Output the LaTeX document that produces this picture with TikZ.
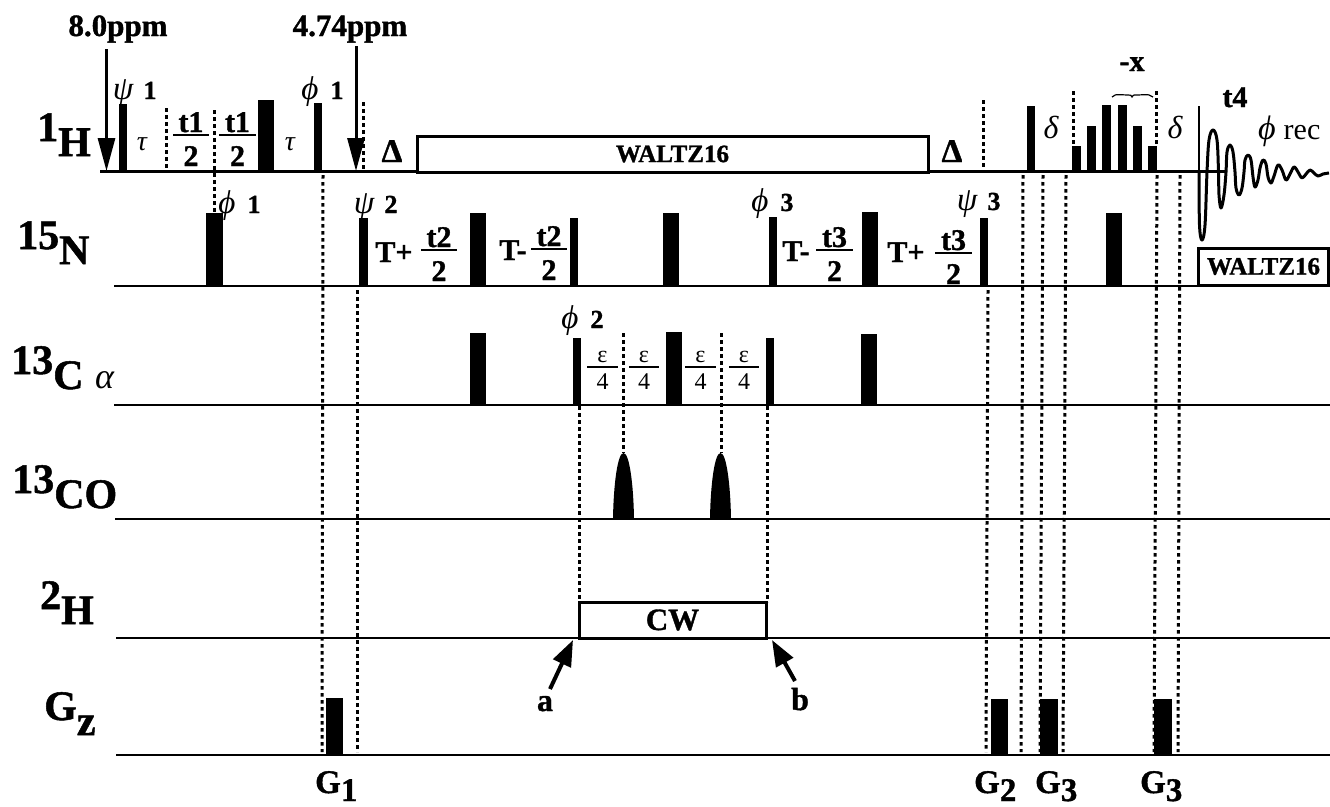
\documentclass[tikz,border=0pt]{standalone}
\usepackage{fontspec}
\setmainfont[BoldFeatures={FakeBold=1.2}]{Liberation Serif}
\usetikzlibrary{arrows.meta}
\newcommand{\fsz}[1]{\fontsize{#1}{#1}\selectfont}
\tikzset{
  chan/.style={line width=2.8pt},
  pulse/.style={fill=black},
  dotln/.style={line width=3pt, dash pattern=on 3.6pt off 3.4pt},
  winbox/.style={draw, line width=3pt, fill=white},
  lbl/.style={anchor=base, inner sep=0pt, font=\fsz{25}\bfseries},
  nuc/.style={anchor=base west, inner sep=0pt, font=\fsz{42}\bfseries},
  grad/.style={anchor=base west, inner sep=0pt, font=\fsz{33}\bfseries},
  ppm/.style={anchor=base, inner sep=0pt, font=\fsz{31}\bfseries},
  phs/.style={anchor=base, inner sep=0pt, font=\fsz{33}\itshape},
  idx/.style={anchor=base, inner sep=0pt, font=\fsz{26}\bfseries},
  dly/.style={anchor=base, inner sep=0pt, font=\fsz{30}\bfseries},
  frc/.style={anchor=base, inner sep=0pt, font=\fsz{30}\bfseries},
  thin frc/.style={anchor=base, inner sep=0pt, font=\fsz{24}},
  bar/.style={line width=2.6pt},
  drop/.style={-{Triangle[length=33pt,width=17pt]}, line width=3pt},
  ptr/.style={-{Triangle[length=26pt,width=19pt]}, line width=4pt}
}
\begin{document}
\begin{tikzpicture}[x=1pt,y=-1pt]
  \useasboundingbox (0,0) rectangle (1330,806);
  % channels
  \foreach \xa/\xb/\y in {100/1226/171.5,114/1199/286,114/1330/405,115/1330/519,116/1330/638,116/1330/755}
    \draw[chan] (\xa,\y) -- (\xb,\y);
  % hard pulses
  \foreach \xa/\xb/\yb/\yt in {119/127/171/104,258/274/171/100,314/322/171/103,1027/1035/171/106,
      1072/1081/171/146,1087/1096/171/126,1102/1111/171/105,1118/1127/171/105,1133/1142/171/126,1148/1157/171/146,
      206/223/286/213,359/368/286/218,470/486/286/213,570/578/286/218,663/679/286/213,769/777/286/217,862/878/286/212,980/988/286/218,1106/1122/286/213,
      470/486/405/333,573/581/405/338,666/682/405/332,766/774/405/338,861/877/405/334,
      326/343/755/698,991/1008/755/699,1040/1058/755/699,1154/1172/755/699}
    \fill[pulse] (\xa,\yb) rectangle (\xb,\yt);
  % shaped pulses
  \foreach \x in {623.5,720.5}
    \fill[pulse] ({\x-10.5},519) .. controls ({\x-10},485) and ({\x-6},453) .. (\x,453)
      .. controls ({\x+6},453) and ({\x+10},485) .. ({\x+10.5},519) -- cycle;
  % vertical guides
  \foreach \xa/\ya/\xb/\yb in {166/108/166/171,214/110/214/213,363/102/363/171,983/100/983/171,
      1073/91/1073/146,1156/91/1156/146,323/175/322/752,357/290/357/752,
      988/290/986/752,1023/175/1021/752,1043/175/1040/752,1066/175/1063/752,
      1157/175/1154/752,1180/175/1178/752,
      579/406/579/602,767/406/767/602,623/333/623/453,721/333/721/453}
    \draw[dotln] (\xa,\ya) -- (\xb,\yb);
  % decoupling windows
  \node[winbox, minimum width=511pt, minimum height=36pt, inner sep=0pt, font=\fsz{25}\bfseries] (dec1) at (672.5,154) {WALTZ16};
  \node[winbox, minimum width=130pt, minimum height=37pt, inner sep=0pt, font=\fsz{25}\bfseries] (dec2) at (1263.5,266.5) {WALTZ16};
  \node[winbox, minimum width=187pt, minimum height=36pt, inner sep=0pt, font=\fsz{31}\bfseries] (cw) at (672.5,620) {CW};
  % channel names
  \node[nuc] (h1) at (37,156) {\raisebox{15pt}{1}H};
  \node[nuc] (n15) at (17,264) {\raisebox{15pt}{15}N};
  \node[nuc] (c13a) at (11,389) {\raisebox{15pt}{13}C};
  \node[anchor=base west, inner sep=0pt, font=\fsz{36}\itshape] (alf) at (95,388) {α};
  \node[nuc] (c13o) at (12,508) {\raisebox{15pt}{13}CO};
  \node[nuc] (h2) at (40,624) {\raisebox{15pt}{2}H};
  \node[nuc] (gz) at (44,720) {G\raisebox{-15pt}{z}};
  % gradient names
  \foreach \x/\t [count=\n] in {315/1,974/2,1035/3,1140/3}
    \node[grad] (g\n) at (\x,793) {G\raisebox{-8pt}{\t}};
  % offsets
  \node[ppm] (p80) at (118,36) {8.0ppm};
  \node[ppm] (p474) at (350,36) {4.74ppm};
  \coordinate (p80a) at (106.5,49);
  \coordinate (p80b) at (106.5,171);
  \coordinate (p474a) at (356,46);
  \coordinate (p474b) at (356,171);
  \draw[drop] (p80a) -- (p80b);
  \draw[drop] (p474a) -- (p474b);
  % phases
  \foreach \x/\y/\s/\t [count=\n] in {123/99/ψ/1,310/99/ϕ/1,227/213/ϕ/1,364/213/ψ/2,760/211/ϕ/3,967/210/ψ/3,570/328/ϕ/2}{
    \node[phs] (ph\n) at (\x,\y) {\s};
    \node[idx] (ix\n) at ({\x+27},\y) {\t};
  }
  % delays
  \foreach \x/\y/\s/\z [count=\n] in {142/150/τ/28,290/150/τ/28,1051/138/δ/32,1175/138/δ/32}
    \node[phs, font=\fsz{\z}\itshape] (d\n) at (\x,\y) {\s};
  \node[dly, font=\fsz{33}\bfseries] (dl1) at (392,162) {Δ};
  \node[dly, font=\fsz{33}\bfseries] (dl2) at (952,162) {Δ};
  % time fractions
  \foreach \xa/\xb/\yb/\upp [count=\n] in {173/209/135/t1,219/256/135/t1,421/457/250/t2,531/567/249/t2,816/853/250/t3,935/972/253/t3}{
    \draw[bar] (\xa,\yb) -- (\xb,\yb);
    \node[frc] (ft\n) at ({(\xa+\xb)/2},{\yb-3}) {\upp};
    \node[frc] (fb\n) at ({(\xa+\xb)/2},{\yb+31}) {2};
  }
  \node[dly] (tp1) at (394,262) {T+};
  \node[dly] (tm1) at (513,260) {T-};
  \node[dly] (tm2) at (796,261) {T-};
  \node[dly] (tp2) at (906,262) {T+};
  % epsilon fractions
  \foreach \xa/\xb [count=\n] in {587/618,629/659,685/716,729/759}{
    \draw[bar] (\xa,367) -- (\xb,367);
    \node[thin frc] (et\n) at ({(\xa+\xb)/2},362) {ε};
    \node[thin frc] (eb\n) at ({(\xa+\xb)/2},389) {4};
  }
  % water gate and acquisition
  \node[dly] (mx) at (1132,71) {-x};
  \draw[line width=1.2pt] (1112,97) .. controls (1114,94.5) .. (1128,95) .. controls (1131,95) .. (1132,97)
    .. controls (1133,95) .. (1137,95) .. controls (1150,94.5) .. (1153,97);
  \node[dly, font=\fsz{30}\bfseries] (t4) at (1235,107) {t4};
  \node[phs, font=\fsz{34}\itshape] (phr) at (1267,139) {ϕ};
  \node[anchor=base, inner sep=0pt, font=\fsz{30}] (rec) at (1302,139) {rec};
  \draw[line width=2.6pt] (1199,106) -- (1199,172);
  \draw[line width=3pt, line join=round] plot[smooth, tension=.6] coordinates {
    (1199,172) (1199.5,225) (1202,240) (1205,225) (1207,172) (1209,140) (1213,130) (1217,140) (1218.5,172) (1219,195) (1221,208) (1224,195)
    (1226,172) (1227,152) (1230,145) (1233,152) (1235,172) (1236,188) (1239,195) (1242,188) (1244,172)
    (1245,160) (1248,155) (1251,160) (1253,177) (1255,187) (1258,180) (1260,168) (1263,160) (1266,164) (1268,177) (1271,183) (1274,176) (1278,165) (1282,170)
    (1286,180) (1290,174) (1294,167) (1298,172) (1302,178) (1306,174) (1310,170) (1314,173) (1318,176) (1323,174) (1329,173)};
  % transition points
  \node[dly, font=\fsz{32}\bfseries] (ka) at (545,711) {a};
  \node[dly, font=\fsz{32}\bfseries] (kb) at (800,710) {b};
  \coordinate (kat) at (573,640);
  \coordinate (kbt) at (772,640);
  \coordinate (kaf) at (550,689);
  \coordinate (kbf) at (795,681);
  \draw[ptr] (kaf) -- (kat);
  \draw[ptr] (kbf) -- (kbt);
\end{tikzpicture}
\end{document}
